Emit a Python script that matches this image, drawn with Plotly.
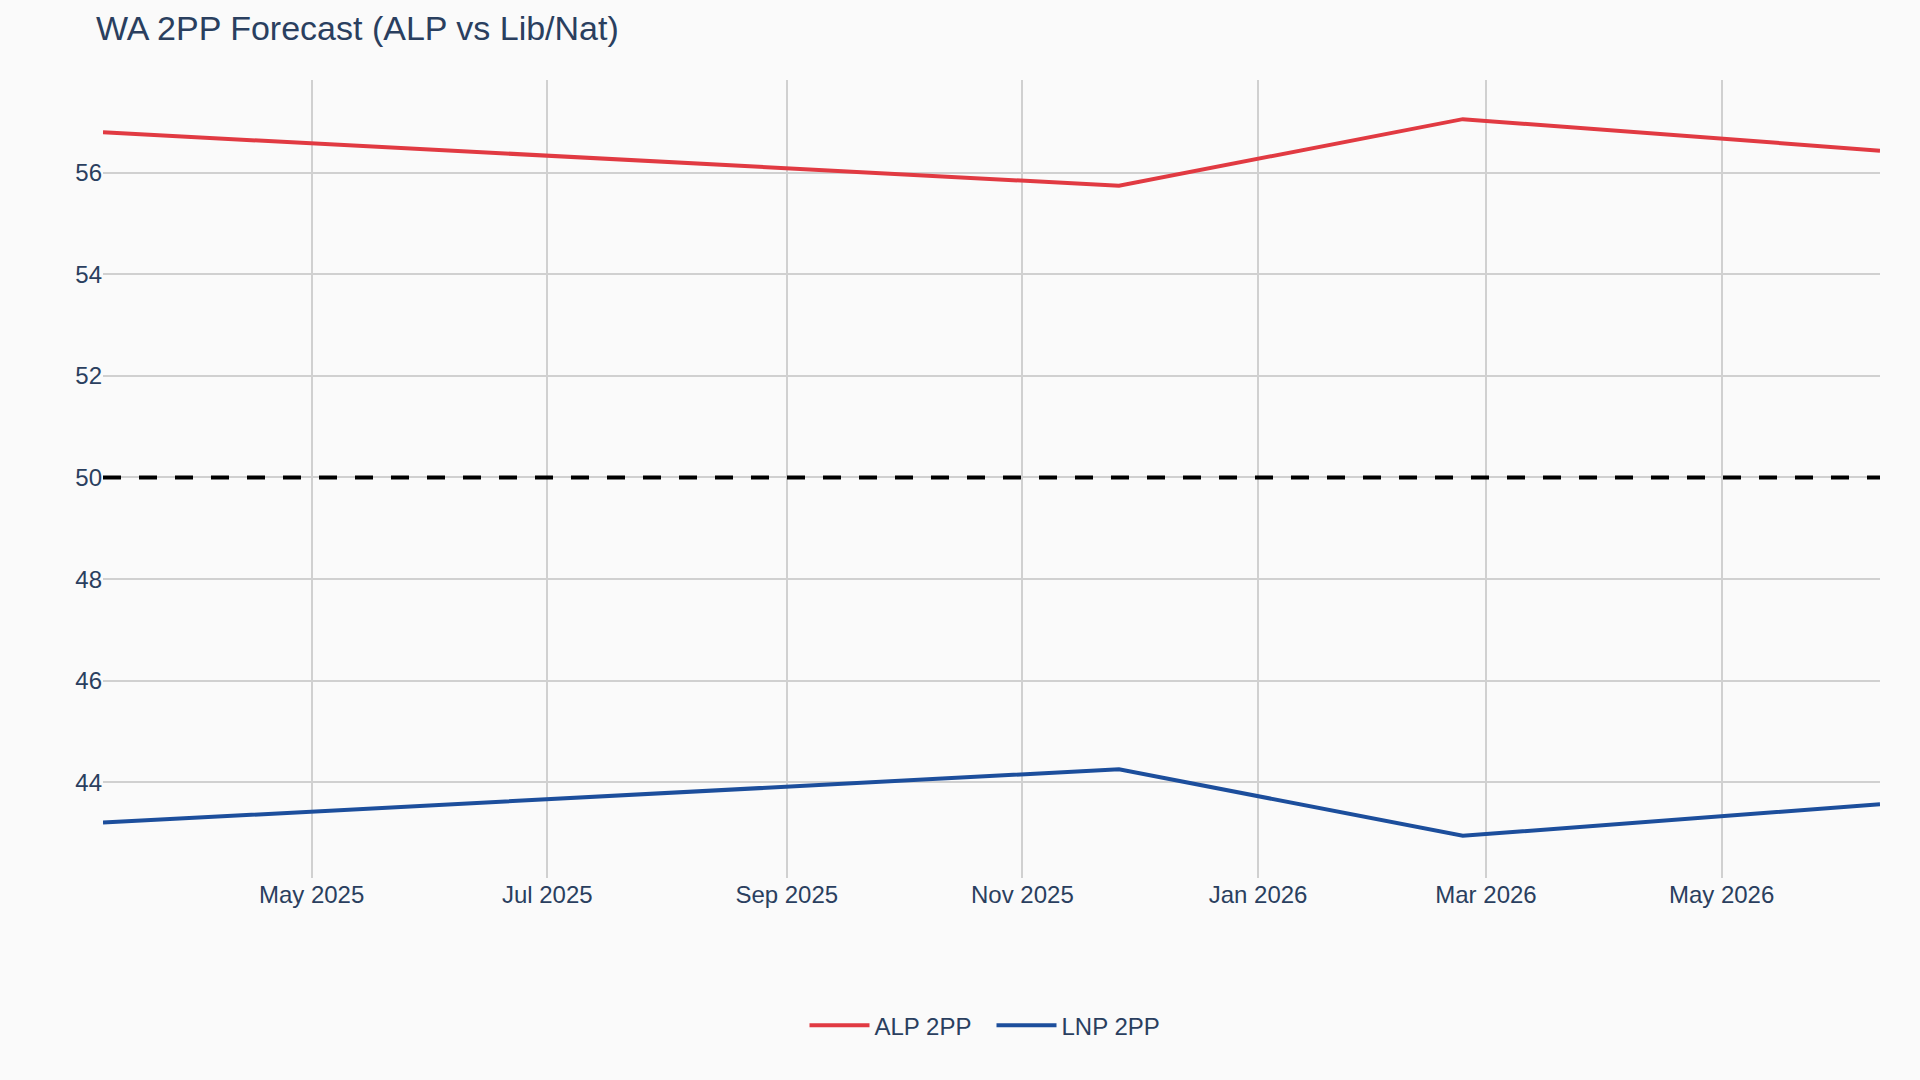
import plotly.graph_objects as go

dates = ["2025-03-08", "2025-11-26", "2026-02-23", "2026-06-11"]
alp_2pp = [56.79, 55.74, 57.05, 56.43]
lnp_2pp = [43.21, 44.26, 42.95, 43.57]
threshold = 50

fig = go.Figure()
fig.add_trace(go.Scatter(x=dates, y=alp_2pp, mode="lines", name="ALP 2PP",
                         line=dict(color="#E13A42", width=4)))
fig.add_trace(go.Scatter(x=dates, y=lnp_2pp, mode="lines", name="LNP 2PP",
                         line=dict(color="#1C4E9C", width=4)))
fig.add_hline(y=threshold, line=dict(color="black", width=4, dash="18px,18px"))

fig.update_layout(
    width=1920, height=1080,
    title=dict(text="WA 2PP Forecast (ALP vs Lib/Nat)"),
    font=dict(family="Arial", size=24, color="#2a3f5f"),
    paper_bgcolor="#fafafa", plot_bgcolor="#fafafa",
    margin=dict(l=103, r=40, t=80, b=202),
    showlegend=True,
    legend=dict(orientation="h", x=0.5, xanchor="center", y=-0.185, yanchor="middle",
                bgcolor="rgba(0,0,0,0)", itemwidth=60, entrywidth=112),
    xaxis=dict(showgrid=True, gridcolor="#d0d0d0", gridwidth=2, zeroline=False,
               tickformat="%b %Y", dtick="M2", tick0="2025-01-01", showline=False),
    yaxis=dict(showgrid=True, gridcolor="#d0d0d0", gridwidth=2, zeroline=False,
               range=[42.12, 57.82], dtick=2, showline=False),
)
fig.write_html("out.html")
